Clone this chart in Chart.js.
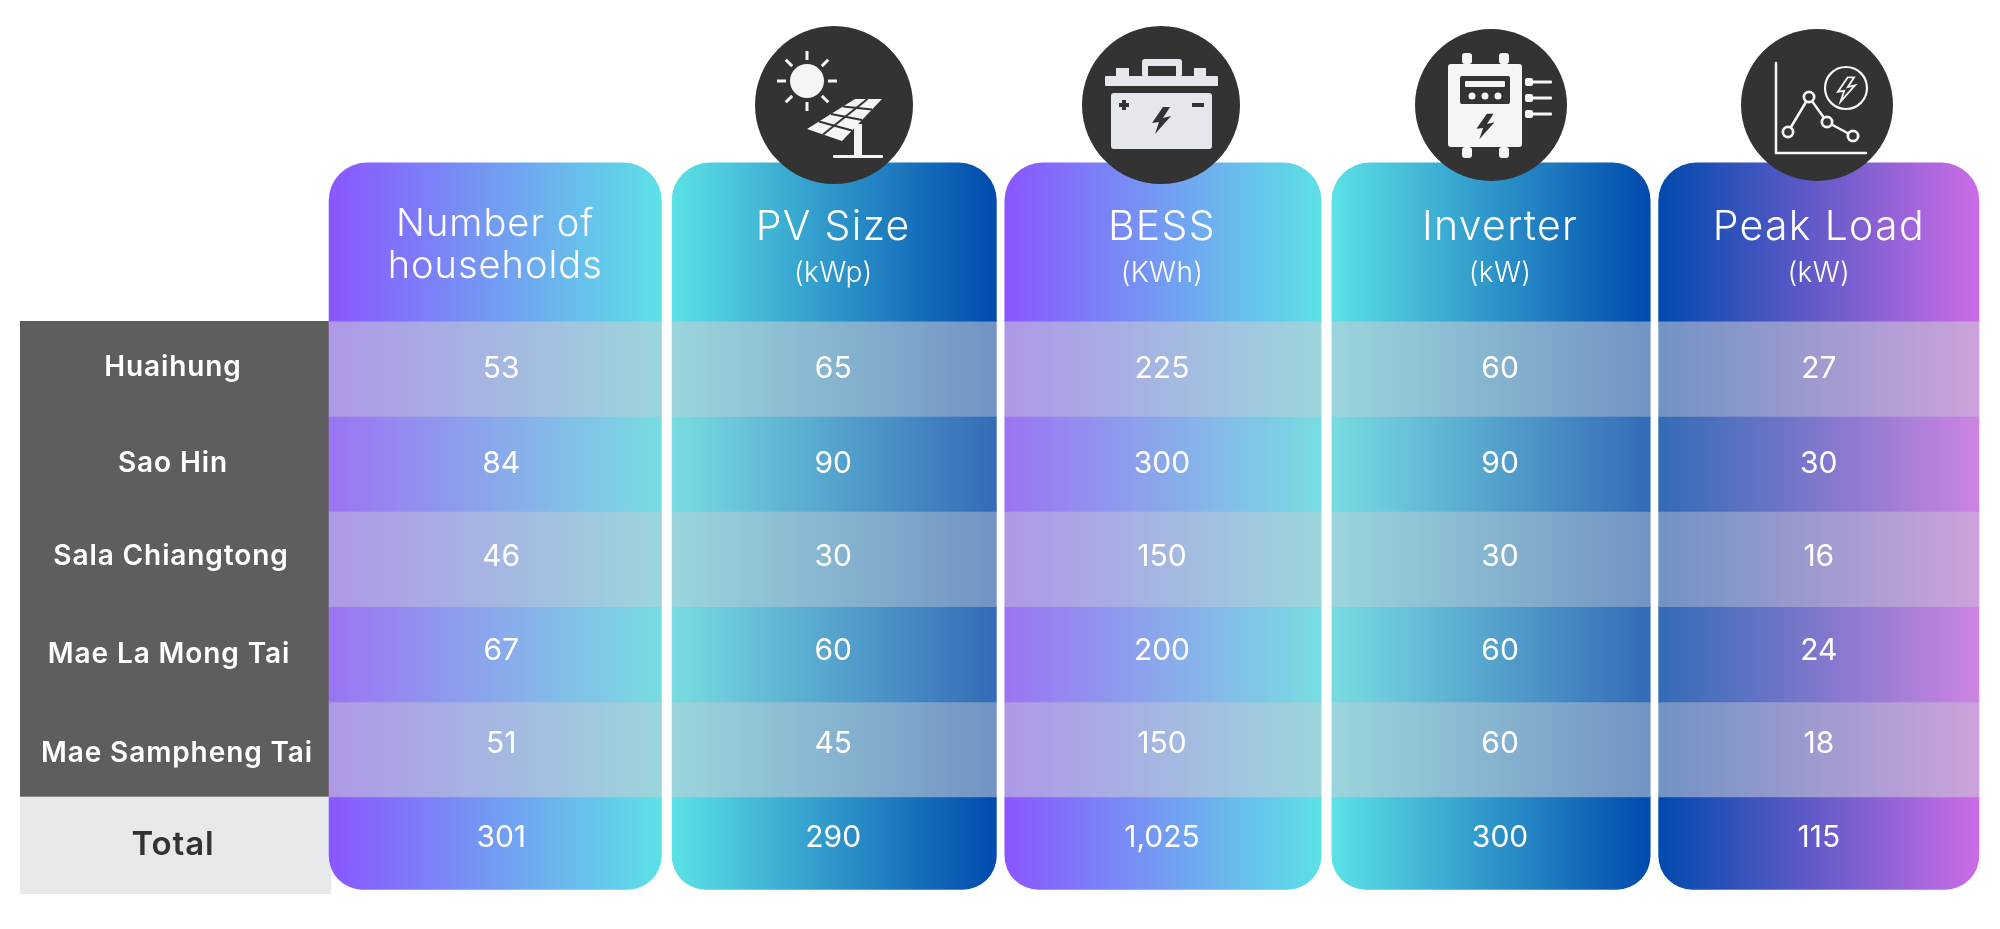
<!DOCTYPE html>
<html lang="en">
<head>
  <meta charset="UTF-8" />
  <title>Village microgrid sizes</title>
  <script src="https://cdn.jsdelivr.net/npm/chart.js"></script>
  <style>
    html, body { margin: 0; padding: 0; background: #fff; }
    canvas { display: block; }
  </style>
</head>
<body>
  <canvas id="myChart" width="2000" height="929"></canvas>

  <script>
    // data
    const columns = ['Number of households', 'PV Size', 'BESS', 'Inverter', 'Peak Load'];
    const units = ['', '(kWp)', '(KWh)', '(kW)', '(kW)'];
    const villages = ['Huaihung', 'Sao Hin', 'Sala Chiangtong', 'Mae La Mong Tai', 'Mae Sampheng Tai'];
    const totalLabel = 'Total';
    const households = [53, 84, 46, 67, 51];
    const pvSize = [65, 90, 30, 60, 45];
    const bess = [225, 300, 150, 200, 150];
    const inverter = [60, 90, 30, 60, 60];
    const peakLoad = [27, 30, 16, 24, 18];
    const totals = [301, 290, 1025, 300, 115];
    const series = [households, pvSize, bess, inverter, peakLoad];

    // layout and styles
    const FONT = 'Inter, "Open Sans", sans-serif';
    const HEADER_SPAN = 1.66;           // header height, in rows
    const columnWidths = [332, 324, 316, 318, 320];
    const columnShift = [-0.009, 0.017, 0.012, 0.005, -0.003];   // columns are not quite evenly spaced
    const textShiftX = [6, -1, -1, 9, 0];
    const valueShiftY = [0, 0, -2, -3, -5, -6];
    const labelShiftX = [-1, -1, -3, -5, 3, -1];
    const labelShiftY = [-1, 0, -2, 1, 4, 1];
    const purple = [138, 86, 255], aqua = [92, 225, 230], navy = [0, 74, 173], pink = [203, 108, 230];
    const columnColors = [[purple, aqua], [aqua, navy], [purple, aqua], [aqua, navy], [navy, pink]];
    const veil = [204, 204, 212];
    const rowVeil = r => (r < 0 || r === villages.length) ? 0 : (r % 2 === 0 ? 0.56 : 0.25);

    const mix = (c, t) => `rgb(${c.map((v, i) => Math.round(v + (veil[i] - v) * t)).join(',')})`;

    function cellColor(col, row) {
      return (ctx) => {
        const x = ctx.chart.scales.x;
        const mid = x ? x.getPixelForValue(col + columnShift[col]) : NaN;
        if (!Number.isFinite(mid)) return 'transparent';
        const g = ctx.chart.ctx.createLinearGradient(mid - columnWidths[col] / 2, 0, mid + columnWidths[col] / 2, 0);
        g.addColorStop(0, mix(columnColors[col][0], rowVeil(row)));
        g.addColorStop(1, mix(columnColors[col][1], rowVeil(row)));
        return g;
      };
    }

    // one floating bar per table cell: header, village rows, total
    const datasets = [];
    columns.forEach((name, col) => {
      for (let row = -1; row <= villages.length; row++) {
        let span = [row, row + 1];
        let radius = 0;
        if (row < 0) {
          span = [-HEADER_SPAN, 0];
          radius = { topLeft: 38, topRight: 38, bottomLeft: 0, bottomRight: 0 };
        }
        if (row === villages.length) {
          span = [row, row + 0.97];
          radius = { topLeft: 0, topRight: 0, bottomLeft: 34, bottomRight: 34 };
        }
        datasets.push({
          label: name,
          data: [{ x: col + columnShift[col], y: span }],
          barThickness: columnWidths[col],
          backgroundColor: cellColor(col, row),
          borderSkipped: false,
          borderRadius: radius,
          inflateAmount: 0.5,
          clip: false,
          grouped: false
        });
      }
    });

    function text(ctx, str, x, y, size, weight, color, spacing) {
      ctx.font = `${weight} ${size}px ${FONT}`;
      ctx.letterSpacing = (spacing || 0) + 'px';
      ctx.fillStyle = color;
      ctx.textAlign = 'center';
      ctx.textBaseline = 'middle';
      ctx.fillText(str, x, y);
      ctx.letterSpacing = '0px';
    }

    function poly(ctx, pts, color) {
      ctx.fillStyle = color;
      ctx.beginPath();
      pts.forEach((p, i) => i ? ctx.lineTo(p[0], p[1]) : ctx.moveTo(p[0], p[1]));
      ctx.closePath();
      ctx.fill();
    }

    function box(ctx, x0, y0, x1, y1, r, color) {
      ctx.fillStyle = color;
      ctx.beginPath();
      ctx.roundRect(x0, y0, x1 - x0, y1 - y0, r);
      ctx.fill();
    }

    function disc(ctx, x, y, r, color) {
      ctx.fillStyle = color;
      ctx.beginPath();
      ctx.arc(x, y, r, 0, Math.PI * 2);
      ctx.fill();
    }

    function segment(ctx, x0, y0, x1, y1, w, color) {
      ctx.strokeStyle = color;
      ctx.lineWidth = w;
      ctx.beginPath();
      ctx.moveTo(x0, y0);
      ctx.lineTo(x1, y1);
      ctx.stroke();
    }

    function boltPts(cx, cy, s) {
      return [[2, -13], [-9, 3], [-2, 2], [-6, 14], [10, -4], [2, -2], [9, -13]]
        .map(p => [cx + p[0] * s, cy + p[1] * s]);
    }

    const DARK = '#333333', LIGHT = '#f5f5f5';

    function sunIcon(ctx) {
      disc(ctx, 834, 105, 79, DARK);
      disc(ctx, 807, 81, 17, LIGHT);
      for (let a = 0; a < 8; a++) {
        const t = a * Math.PI / 4;
        segment(ctx, 807 + 21 * Math.cos(t), 81 + 21 * Math.sin(t), 807 + 30 * Math.cos(t), 81 + 30 * Math.sin(t), 3, LIGHT);
      }
      poly(ctx, [[855, 99], [882, 99], [842, 141], [807, 129]], LIGHT);
      const p = (u, v) => [855 + (882 - 855) * u + (807 - 855) * v + (842 - 882 - 807 + 855) * u * v,
                           99 + 30 * v + 12 * u * v];
      [0.25, 0.5, 0.75].forEach(v => segment(ctx, ...p(0, v), ...p(1, v), 2, DARK));
      segment(ctx, ...p(0.46, 0), ...p(0.46, 1), 2, DARK);
      box(ctx, 854, 124, 862, 156, 0, LIGHT);
      box(ctx, 833, 155, 883, 158, 1, LIGHT);
    }

    function batteryIcon(ctx) {
      const c = '#e4e8ec';
      disc(ctx, 1161, 105, 79, DARK);
      box(ctx, 1105, 76, 1218, 86, 1, c);
      box(ctx, 1116, 68, 1129, 77, 0, c);
      box(ctx, 1194, 68, 1206, 77, 0, c);
      box(ctx, 1142, 59, 1182, 77, 3, c);
      box(ctx, 1148, 66, 1176, 76, 0, DARK);
      box(ctx, 1111, 93, 1212, 149, 3, c);
      box(ctx, 1119, 103, 1129, 107, 0, DARK);
      box(ctx, 1122, 100, 1126, 110, 0, DARK);
      box(ctx, 1192, 103, 1204, 107, 0, DARK);
      poly(ctx, boltPts(1161, 120, 1), DARK);
    }

    function inverterIcon(ctx) {
      disc(ctx, 1491, 105, 76, DARK);
      [1462, 1499].forEach(x => {
        box(ctx, x, 53, x + 10, 64, 3, LIGHT);
        box(ctx, x, 147, x + 10, 158, 3, LIGHT);
      });
      box(ctx, 1448, 64, 1522, 147, 3, LIGHT);
      box(ctx, 1460, 76, 1510, 104, 2, DARK);
      box(ctx, 1465, 81, 1505, 87, 1, LIGHT);
      [1472, 1485, 1498].forEach(x => disc(ctx, x, 96, 3.5, LIGHT));
      poly(ctx, boltPts(1485, 126, 0.95), DARK);
      [82, 98, 114].forEach(y => {
        box(ctx, 1525, y - 4, 1533, y + 4, 2, LIGHT);
        box(ctx, 1532, y - 1.5, 1552, y + 1.5, 1, LIGHT);
      });
    }

    function peakIcon(ctx) {
      disc(ctx, 1817, 105, 76, DARK);
      ctx.lineCap = 'round';
      segment(ctx, 1776, 63, 1776, 153, 2.5, LIGHT);
      segment(ctx, 1776, 153, 1866, 153, 2.5, LIGHT);
      const pts = [[1788, 132], [1809, 97], [1827, 122], [1853, 136]];
      pts.forEach((p, i) => { if (i) segment(ctx, pts[i - 1][0], pts[i - 1][1], p[0], p[1], 2.5, LIGHT); });
      ctx.lineCap = 'butt';
      pts.forEach(p => {
        disc(ctx, p[0], p[1], 6.5, LIGHT);
        disc(ctx, p[0], p[1], 3.8, DARK);
      });
      ctx.strokeStyle = LIGHT;
      ctx.lineWidth = 2.2;
      ctx.beginPath();
      ctx.arc(1846, 88, 21, 0, Math.PI * 2);
      ctx.stroke();
      ctx.beginPath();
      boltPts(1846, 89, 0.9).forEach((p, i) => i ? ctx.lineTo(p[0], p[1]) : ctx.moveTo(p[0], p[1]));
      ctx.closePath();
      ctx.lineWidth = 1.8;
      ctx.stroke();
    }

    const tablePlugin = {
      id: 'tablePlugin',
      beforeDatasetsDraw(chart) {
        // row label column, ends where the first value column starts
        const { ctx, scales: { x, y } } = chart;
        const left = 20, right = x.getPixelForValue(columnShift[0]) - columnWidths[0] / 2;
        const rowsTop = y.getPixelForValue(0), totalTop = y.getPixelForValue(villages.length);
        ctx.save();
        ctx.fillStyle = '#5e5e5e';
        ctx.fillRect(left, rowsTop, right - left, totalTop - rowsTop);
        ctx.fillStyle = '#e8e9ec';
        ctx.fillRect(left, totalTop, right - left + 2, y.getPixelForValue(villages.length + 1) + 2 - totalTop);
        ctx.restore();
      },
      afterDatasetsDraw(chart) {
        const { ctx, scales: { x, y } } = chart;
        ctx.save();
        villages.concat(totalLabel).forEach((name, r) => {
          const cy = y.getPixelForValue(r + 0.5) + labelShiftY[r];
          const isTotal = r === villages.length;
          text(ctx, name, 174 + labelShiftX[r], cy, isTotal ? 33 : 28, 600, isTotal ? '#2f3333' : '#ffffff', 0.9);
        });
        columns.forEach((name, c) => {
          const cx = x.getPixelForValue(c + columnShift[c]) + textShiftX[c];
          series[c].concat(totals[c]).forEach((v, r) => {
            text(ctx, v.toLocaleString('en-US'), cx, y.getPixelForValue(r + 0.5) + valueShiftY[r], 30, 400, '#ffffff', 0);
          });
          if (units[c]) {
            text(ctx, name, cx, 227.5, 41, 350, '#ffffff', 1.3);
            text(ctx, units[c], cx, 273.5, 28, 300, '#ffffff', 0.3);
          } else {
            const words = name.split(' ');
            text(ctx, words.slice(0, 2).join(' '), cx - 6, 224.5, 38, 350, '#ffffff', 1);
            text(ctx, words.slice(2).join(' '), cx - 6, 266.5, 38, 350, '#ffffff', 1);
          }
        });
        sunIcon(ctx);
        batteryIcon(ctx);
        inverterIcon(ctx);
        peakIcon(ctx);
        ctx.restore();
      }
    };

    new Chart(document.getElementById('myChart').getContext('2d'), {
      type: 'bar',
      data: { datasets: datasets },
      plugins: [tablePlugin],
      options: {
        responsive: false,
        animation: false,
        layout: { padding: { left: 333, right: 15, top: 163, bottom: 37 } },
        plugins: { legend: { display: false }, tooltip: { enabled: false } },
        scales: {
          x: { type: 'linear', offset: false, display: false, min: -0.5, max: columns.length - 0.5, grid: { display: false } },
          y: { display: false, reverse: true, min: -HEADER_SPAN, max: villages.length + 1, grid: { display: false } }
        }
      }
    });
  </script>
</body>
</html>
